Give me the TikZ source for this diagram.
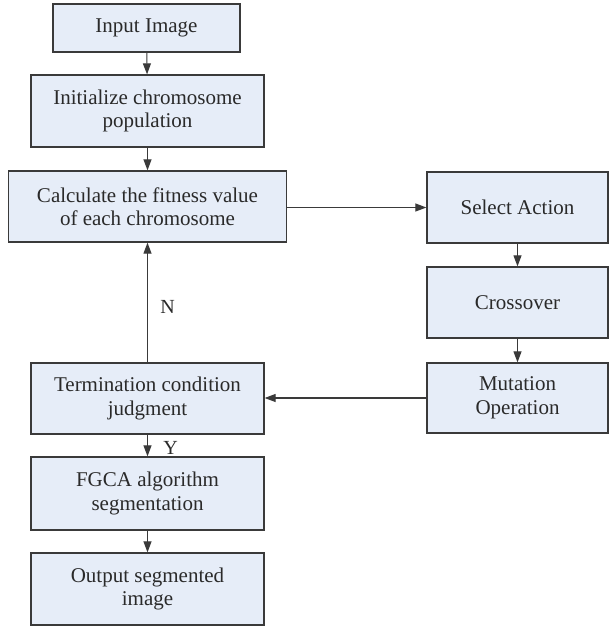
\documentclass[tikz,border=0pt]{standalone}
\usepackage{fontspec}
\setmainfont{Liberation Serif}
\usetikzlibrary{arrows.meta}
\definecolor{boxfill}{HTML}{E6EDF8}
\definecolor{boxline}{HTML}{3A3A3A}
\definecolor{ink}{HTML}{2A2A2A}
\tikzset{
  stepbox/.style={draw=boxline, fill=boxfill, line width=1.3pt, align=center,
    text=ink, font=\fontsize{21}{23.5}\selectfont, inner sep=0pt},
  flow/.style={draw=boxline, line width=1.1pt, -{Triangle[length=11pt,width=8pt]}},
  lbl/.style={text=ink, font=\fontsize{20}{22}\selectfont, inner sep=0pt}
}
\begin{document}
\begin{tikzpicture}[x=1pt,y=-1pt]
\useasboundingbox (0,0) rectangle (610,629);
% left column
\node[stepbox, minimum width=187pt, minimum height=48pt] (inp) at (146.5,28) {Input Image};
\node[stepbox, minimum width=233pt, minimum height=72pt] (ini) at (147.5,111) {Initialize chromosome\\population};
\node[stepbox, minimum width=278pt, minimum height=71pt] (fit) at (147.5,206.5) {Calculate the fitness value\\of each chromosome};
\node[stepbox, minimum width=233pt, minimum height=71pt] (ter) at (147.5,398.5) {Termination condition\\judgment};
\node[stepbox, minimum width=233pt, minimum height=73pt] (fgc) at (147.5,493.5) {FGCA algorithm\\segmentation};
\node[stepbox, minimum width=233pt, minimum height=72pt] (out) at (147.5,589) {Output segmented\\image};
% right column
\node[stepbox, minimum width=181pt, minimum height=71pt] (sel) at (517.5,207.5) {Select Action};
\node[stepbox, minimum width=181pt, minimum height=71pt] (cro) at (517.5,302.5) {Crossover};
\node[stepbox, minimum width=181pt, minimum height=70pt] (mut) at (517.5,398) {Mutation\\Operation};
% connectors
\draw[flow] (inp) -- (ini);
\draw[flow] (ini) -- (fit);
\draw[flow] (fit.east |- sel.west) -- (sel.west);
\draw[flow] (sel) -- (cro);
\draw[flow] (cro) -- (mut);
\draw[flow] (mut.west) -- (mut.west -| ter.east);
\draw[flow] (ter) -- node[lbl, pos=0.46, xshift=20pt] {N} (fit);
\draw[flow] (ter) -- node[lbl, pos=0.6, xshift=23pt] {Y} (fgc);
\draw[flow] (fgc) -- (out);
\end{tikzpicture}
\end{document}
